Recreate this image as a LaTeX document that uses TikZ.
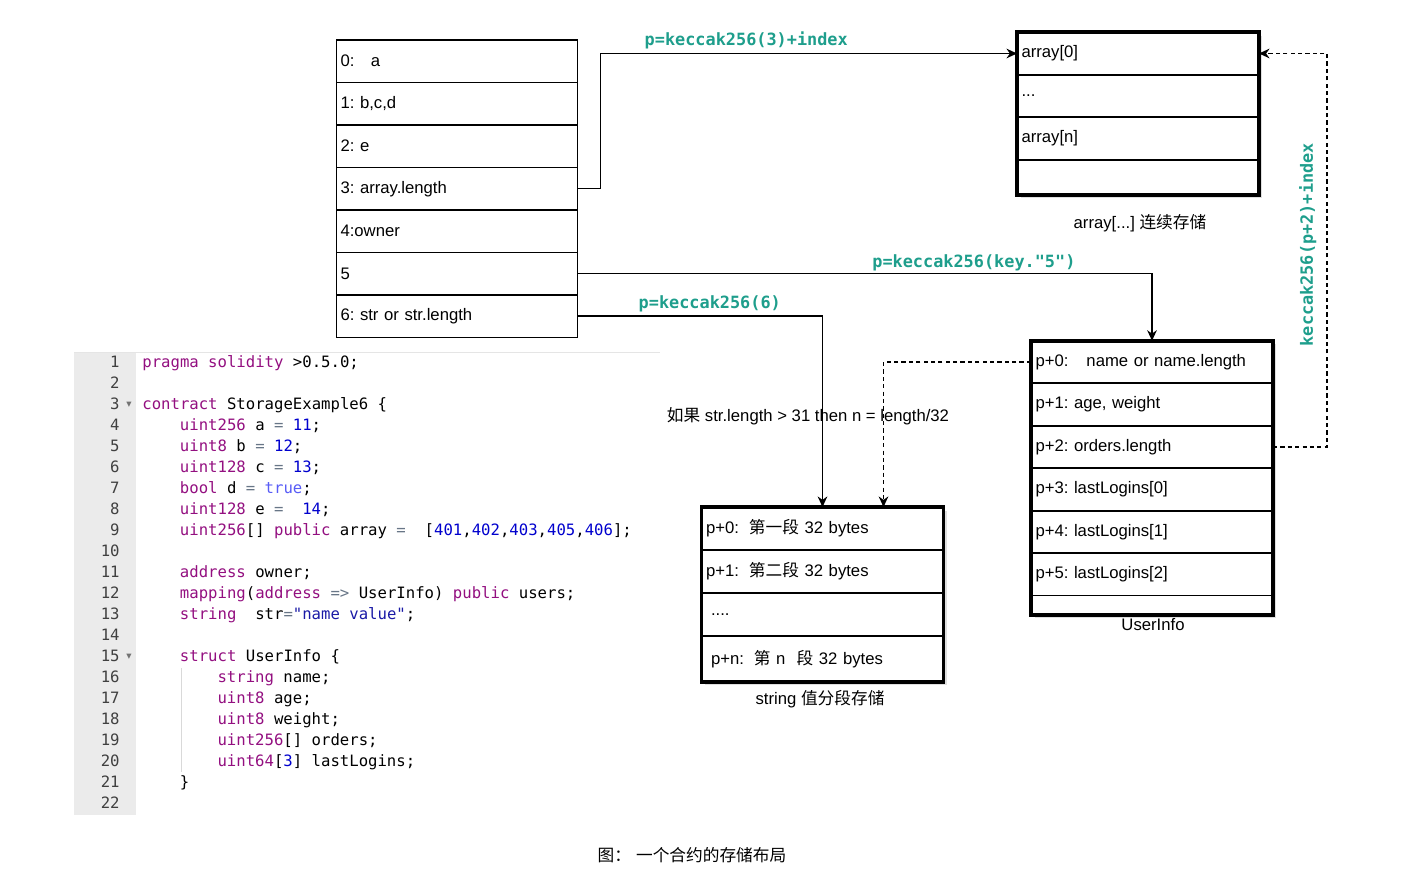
\documentclass[tikz,border=0pt]{standalone}
\usepackage{fontspec}
\setmainfont{Liberation Sans}
\newfontfamily\cjk{Noto Sans CJK SC}
\newfontfamily\codefont{DejaVu Sans Mono}[Ligatures=TeXOff]
\newfontfamily\glyphfont{DejaVu Sans}
\usetikzlibrary{arrows.meta,positioning,calc,fit,backgrounds,shadows}

\definecolor{hashcol}{RGB}{30,158,140}
\definecolor{kwcol}{RGB}{147,15,128}
\definecolor{numcol}{RGB}{0,0,205}
\definecolor{cstcol}{RGB}{88,92,246}
\definecolor{strcol}{RGB}{26,26,166}
\definecolor{opcol}{RGB}{104,118,135}
\definecolor{guttercol}{RGB}{235,235,235}

\newcommand\zh[1]{{\cjk #1}}
\newcommand\kwd[1]{\textcolor{kwcol}{#1}}
\newcommand\nmb[1]{\textcolor{numcol}{#1}}
\newcommand\cst[1]{\textcolor{cstcol}{#1}}
\newcommand\strg[1]{\textcolor{strcol}{#1}}
\newcommand\opr[1]{\textcolor{opcol}{#1}}

\begin{document}
\frenchspacing
\begin{tikzpicture}[x=0.02cm,y=-0.02cm,>=Stealth,font=\fontsize{9.5}{11}\selectfont]
\tikzstyle{slot}=[draw,line width=0.8pt,outer sep=0pt,inner sep=0pt,inner xsep=0.08cm,text width=4.66cm,align=left,minimum height=0.85cm]
\tikzstyle{cell}=[draw,line width=0.9pt,outer sep=0pt,inner sep=0pt,inner xsep=0.09cm,text width=4.66cm,align=left,minimum height=0.85cm]
\tikzstyle{boxframe}=[draw,line width=2.2pt,fill=white,inner sep=0pt,drop shadow={shadow xshift=2pt,shadow yshift=-2pt,opacity=0.25}]
\tikzstyle{link}=[line width=0.8pt,-{Stealth[length=6pt,width=5.5pt]}]
\tikzstyle{dlink}=[link,dash pattern=on 2.4pt off 1.8pt]
\tikzstyle{hashlbl}=[text=hashcol,inner sep=1pt,font=\codefont\bfseries\fontsize{9.6}{11}\selectfont]
\tikzstyle{codeline}=[anchor=base west,inner sep=0pt,font=\codefont\fontsize{8.9}{10}\selectfont]
\tikzstyle{lnum}=[anchor=base east,inner sep=0pt,text=black!75,font=\codefont\fontsize{8.9}{10}\selectfont]
\tikzstyle{foldmark}=[inner sep=0pt,text=black!55,font=\glyphfont\fontsize{6}{6}\selectfont]
\useasboundingbox (0,0) rectangle (1428,874);

% storage slots
\node[slot] (s0) at (457,61.25) {0:\hspace{0.33cm}a};
\node[slot] (s1) [below=0pt of s0] {1: b,c,d};
\node[slot] (s2) [below=0pt of s1] {2: e};
\node[slot] (s3) [below=0pt of s2] {3: array.length};
\node[slot] (s4) [below=0pt of s3] {4:owner};
\node[slot] (s5) [below=0pt of s4] {5};
\node[slot] (s6) [below=0pt of s5] {6: str or str.length};

% array area
\node[cell] (a0) at (1138,53.5) {array[0]};
\node[cell] (a1) [below=0pt of a0] {...};
\node[cell] (a2) [below=0pt of a1] {array[n]};
\node[cell,minimum height=0.7cm] (a3) [below=0pt of a2] {};
\node (arrcap) at (1140,223) {array[...] \zh{连续存储}};

% struct UserInfo
\node[cell] (u0) at (1152,362) {p+0:\hspace{0.36cm}name or name.length};
\node[cell] (u1) [below=0pt of u0] {p+1: age, weight};
\node[cell] (u2) [below=0pt of u1] {p+2: orders.length};
\node[cell] (u3) [below=0pt of u2] {p+3: lastLogins[0]};
\node[cell] (u4) [below=0pt of u3] {p+4: lastLogins[1]};
\node[cell] (u5) [below=0pt of u4] {p+5: lastLogins[2]};
\node[cell,minimum height=0.38cm] (u6) [below=0pt of u5] {};
\node (usrcap) at (1153,625) {UserInfo};

% string chunks
\node[cell,minimum height=0.86cm] (st0) at (822.5,528.5) {p+0:\hspace{0.2cm}\zh{第一段} 32 bytes};
\node[cell,minimum height=0.86cm] (st1) [below=0pt of st0] {p+1:\hspace{0.2cm}\zh{第二段} 32 bytes};
\node[cell,minimum height=0.86cm] (st2) [below=0pt of st1] {\hspace{0.1cm}....};
\node[cell,minimum height=0.92cm] (st3) [below=0pt of st2] {\hspace{0.1cm}p+n:\hspace{0.2cm}\zh{第} n\ \ \zh{段} 32 bytes};
\node (strcap) at (820,699) {string \zh{值分段存储}};

\begin{scope}[on background layer]
\node[boxframe,fit=(a0)(a3)] (arr) {};
\node[boxframe,fit=(u0)(u6)] (usr) {};
\node[boxframe,fit=(st0)(st3)] (str) {};
\end{scope}

% connectors
\draw[link] (s3.east) -- ++(23,0) |- node[hashlbl,pos=0.675,above=1pt] {p=keccak256(3)+index} (a0.west);
\draw[link] (s5.east) -| node[hashlbl,pos=0.345,above=0pt] {p=keccak256(key."5")} (u0.north);
\draw[link] (s6.east) -| node[hashlbl,pos=0.27,above=1pt] {p=keccak256(6)} (st0.north);
\draw[dlink] (u0.west) -| ($(st0.north)+(61,0)$);
\draw[dlink] (u2.east) -- ++(54,0) |- node[hashlbl,pos=0.257,rotate=90,anchor=south,outer sep=5pt] {keccak256(p+2)+index} (a0.east);
\node (note) at (808,416) {\zh{如果} str.length > 31 then n = length/32};

% editor panel
\fill[guttercol] (74,352) rectangle (136,815);
\draw[black!10] (74,352) -- (660,352);
\draw[black!15] (181,668) -- (181,772);
\foreach \i in {1,...,22}
  \node[lnum] (n\i) at (120,{346.5+21*\i}) {\i};
\node[foldmark] (f3) at (129,405) {▾};
\node[foldmark] (f15) at (129,657) {▾};
\node[codeline] (l1) at (142,367.5) {\kwd{pragma solidity} >0.5.0;};
\node[codeline] (l3) at (142,409.5) {\kwd{contract} StorageExample6 \{};
\node[codeline] (l4) at (179.6,430.5) {\kwd{uint256} a \opr{=} \nmb{11};};
\node[codeline] (l5) at (179.6,451.5) {\kwd{uint8} b \opr{=} \nmb{12};};
\node[codeline] (l6) at (179.6,472.5) {\kwd{uint128} c \opr{=} \nmb{13};};
\node[codeline] (l7) at (179.6,493.5) {\kwd{bool} d \opr{=} \cst{true};};
\node[codeline] (l8) at (179.6,514.5) {\kwd{uint128} e \opr{=}\ \ \nmb{14};};
\node[codeline] (l9) at (179.6,535.5) {\kwd{uint256}[] \kwd{public} array \opr{=}\ \ [\nmb{401},\nmb{402},\nmb{403},\nmb{405},\nmb{406}];};
\node[codeline] (l11) at (179.6,577.5) {\kwd{address} owner;};
\node[codeline] (l12) at (179.6,598.5) {\kwd{mapping}(\kwd{address} \opr{=>} UserInfo) \kwd{public} users;};
\node[codeline] (l13) at (179.6,619.5) {\kwd{string}\ \ str\opr{=}\strg{"name value"};};
\node[codeline] (l15) at (179.6,661.5) {\kwd{struct} UserInfo \{};
\node[codeline] (l16) at (217.2,682.5) {\kwd{string} name;};
\node[codeline] (l17) at (217.2,703.5) {\kwd{uint8} age;};
\node[codeline] (l18) at (217.2,724.5) {\kwd{uint8} weight;};
\node[codeline] (l19) at (217.2,745.5) {\kwd{uint256}[] orders;};
\node[codeline] (l20) at (217.2,766.5) {\kwd{uint64}[\nmb{3}] lastLogins;};
\node[codeline] (l21) at (179.6,787.5) {\}};

\node (figcap) at (692,855) {\zh{图：}\hspace{0.1cm}\zh{一个合约的存储布局}};
\end{tikzpicture}
\end{document}
